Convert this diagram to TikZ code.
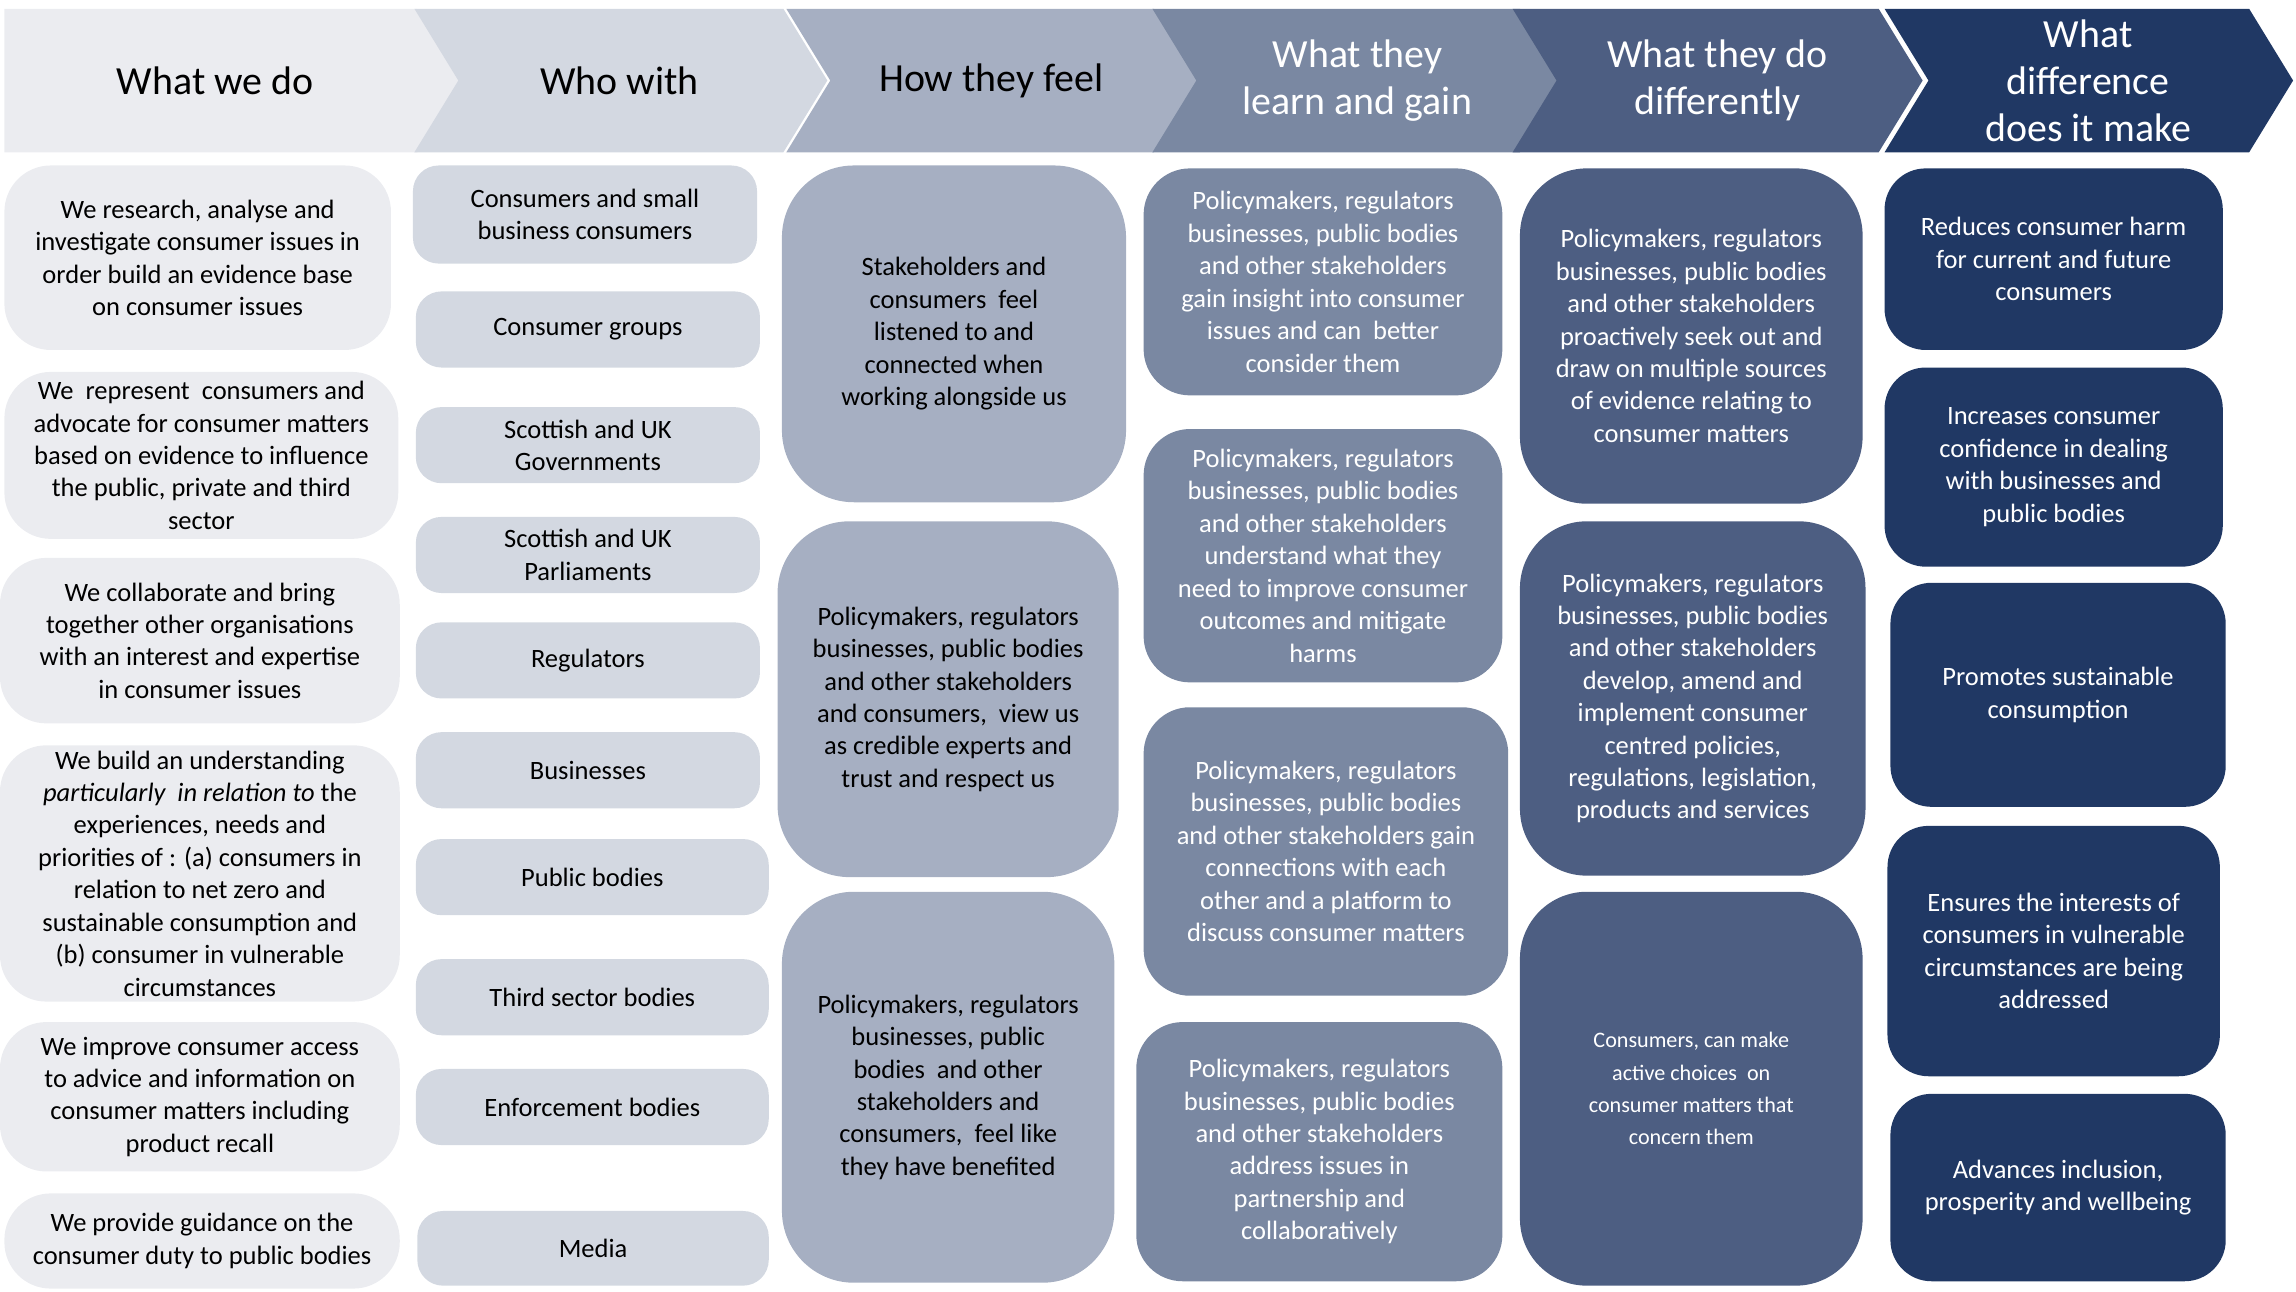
\documentclass[tikz,border=0pt]{standalone}
\usepackage{fontspec}
\setmainfont{Carlito}
\definecolor{cA}{HTML}{EBECF0}
\definecolor{cB}{HTML}{D3D8E1}
\definecolor{cC}{HTML}{A6AFC2}
\definecolor{cD}{HTML}{7A88A2}
\definecolor{cE}{HTML}{4D5E82}
\definecolor{cF}{HTML}{203864}
\newcommand\bx[8]{\node[boxbase,fill=#6,text=#7,minimum width={(#4-#2)*0.02cm},minimum height={(#5-#3)*0.02cm}] (#1) at ({(#2+#4)/2},{-(#3+#5)/2}) {#8};}
\newcommand\chev[5]{\fill[#3] (#1,-6) -- (#1+252,-6) -- (#1+282,-55) -- (#1+252,-104) -- (#1,-104) #4 -- cycle;
\node[hdr,text=#5] (h#1) at (#2,-55) {};}
\tikzset{boxbase/.style={rounded corners=18pt,align=center,font=\fontsize{10.3}{12.6}\selectfont,inner sep=0pt},
hdr/.style={align=center,font=\fontsize{15.5}{18.3}\selectfont}}
\begin{document}
\begin{tikzpicture}[x=0.02cm,y=0.02cm]
\useasboundingbox (0,0) rectangle (1568,-882);
\fill[cA] (3,-6) -- (285,-6) -- (315,-55) -- (285,-104) -- (3,-104) -- cycle;
\node[hdr] (h1) at (147,-55) {What we do};
\fill[cB] (283,-6) -- (535,-6) -- (565,-55) -- (535,-104) -- (283,-104) -- (313,-55) -- cycle;
\node[hdr] (h2) at (423,-55) {Who with};
\fill[cC] (537,-6) -- (788,-6) -- (818,-55) -- (788,-104) -- (537,-104) -- (567,-55) -- cycle;
\node[hdr] (h3) at (677,-55) {How they feel};
\fill[cD] (787,-6) -- (1038,-6) -- (1068,-55) -- (1038,-104) -- (787,-104) -- (817,-55) -- cycle;
\node[hdr,text=white] (h4) at (927,-55) {What they\\learn and gain};
\fill[cE] (1033,-6) -- (1283,-6) -- (1313,-55) -- (1283,-104) -- (1033,-104) -- (1063,-55) -- cycle;
\node[hdr,text=white] (h5) at (1173,-55) {What they do\\differently};
\fill[cF] (1287,-6) -- (1536,-6) -- (1566,-55) -- (1536,-104) -- (1287,-104) -- (1317,-55) -- cycle;
\node[hdr,text=white] (h6) at (1426,-55) {What\\difference\\does it make};
% col1
\bx{a1}{3}{113}{267}{239}{cA}{black}{We research, analyse and\\investigate consumer issues in\\order build an evidence base\\on consumer issues}
\bx{a2}{3}{254}{272}{368}{cA}{black}{We \ represent \ consumers and\\advocate for consumer matters\\based on evidence to influence\\the public, private and third\\sector}
\bx{a3}{0}{381}{273}{494}{cA}{black}{We collaborate and bring\\together other organisations\\with an interest and expertise\\in consumer issues}
\bx{a4}{0}{509}{273}{684}{cA}{black}{We build an understanding\\\textit{particularly \ in relation to} the\\experiences, needs and\\priorities of : (a) consumers in\\relation to net zero and\\sustainable consumption and\\(b) consumer in vulnerable\\circumstances}
\bx{a5}{0}{698}{273}{800}{cA}{black}{We improve consumer access\\to advice and information on\\consumer matters including\\product recall}
\bx{a6}{3}{815}{273}{880}{cA}{black}{We provide guidance on the\\consumer duty to public bodies}
% col2
\tikzset{boxbase/.append style={rounded corners=10pt}}
\bx{b1}{282}{113}{517}{180}{cB}{black}{Consumers and small\\business consumers}
\bx{b2}{284}{199}{519}{251}{cB}{black}{Consumer groups}
\bx{b3}{284}{278}{519}{330}{cB}{black}{Scottish and UK\\Governments}
\bx{b4}{284}{353}{519}{405}{cB}{black}{Scottish and UK\\Parliaments}
\bx{b5}{284}{425}{519}{477}{cB}{black}{Regulators}
\bx{b6}{284}{500}{519}{552}{cB}{black}{Businesses}
\bx{b7}{284}{573}{525}{625}{cB}{black}{Public bodies}
\bx{b8}{284}{655}{525}{707}{cB}{black}{Third sector bodies}
\bx{b9}{284}{730}{525}{782}{cB}{black}{Enforcement bodies}
\bx{b10}{285}{827}{525}{878}{cB}{black}{Media}
% col3
\tikzset{boxbase/.append style={rounded corners=28pt}}
\bx{c1}{534}{113}{769}{343}{cC}{black}{Stakeholders and\\consumers \ feel\\listened to and\\connected when\\working alongside us}
\bx{c2}{531}{356}{764}{599}{cC}{black}{Policymakers, regulators\\businesses, public bodies\\and other stakeholders\\and consumers, \ view us\\as credible experts and\\trust and respect us}
\bx{c3}{534}{609}{761}{876}{cC}{black}{Policymakers, regulators\\businesses, public\\bodies \ and other\\stakeholders and\\consumers, \ feel like\\they have benefited}
% col4
\tikzset{boxbase/.append style={rounded corners=18pt}}
\bx{d1}{781}{115}{1026}{270}{cD}{white}{Policymakers, regulators\\businesses, public bodies\\and other stakeholders\\gain insight into consumer\\issues and can \ better\\consider them}
\bx{d2}{781}{293}{1026}{466}{cD}{white}{Policymakers, regulators\\businesses, public bodies\\and other stakeholders\\understand what they\\need to improve consumer\\outcomes and mitigate\\harms}
\bx{d3}{781}{483}{1030}{680}{cD}{white}{Policymakers, regulators\\businesses, public bodies\\and other stakeholders gain\\connections with each\\other and a platform to\\discuss consumer matters}
\bx{d4}{776}{698}{1026}{875}{cD}{white}{Policymakers, regulators\\businesses, public bodies\\and other stakeholders\\address issues in\\partnership and\\collaboratively}
% col5
\tikzset{boxbase/.append style={rounded corners=26pt}}
\bx{e1}{1038}{115}{1272}{344}{cE}{white}{Policymakers, regulators\\businesses, public bodies\\and other stakeholders\\proactively seek out and\\draw on multiple sources\\of evidence relating to\\consumer matters}
\bx{e2}{1038}{356}{1274}{598}{cE}{white}{Policymakers, regulators\\businesses, public bodies\\and other stakeholders\\develop, amend and\\implement consumer\\centred policies,\\regulations, legislation,\\products and services}
\bx{e3}{1038}{609}{1272}{878}{cE}{white}{\fontsize{8.6}{11.2}\selectfont Consumers, can make\\\fontsize{8.6}{11.2}\selectfont active choices \ on\\\fontsize{8.6}{11.2}\selectfont consumer matters that\\\fontsize{8.6}{11.2}\selectfont concern them}
% col6
\tikzset{boxbase/.append style={rounded corners=16pt}}
\bx{f1}{1287}{115}{1518}{239}{cF}{white}{Reduces consumer harm\\for current and future\\consumers}
\bx{f2}{1287}{251}{1518}{387}{cF}{white}{Increases consumer\\confidence in dealing\\with businesses and\\public bodies}
\bx{f3}{1291}{398}{1520}{551}{cF}{white}{Promotes sustainable\\consumption}
\bx{f4}{1289}{564}{1516}{735}{cF}{white}{Ensures the interests of\\consumers in vulnerable\\circumstances are being\\addressed}
\bx{f5}{1291}{747}{1520}{875}{cF}{white}{Advances inclusion,\\prosperity and wellbeing}
\end{tikzpicture}
\end{document}
